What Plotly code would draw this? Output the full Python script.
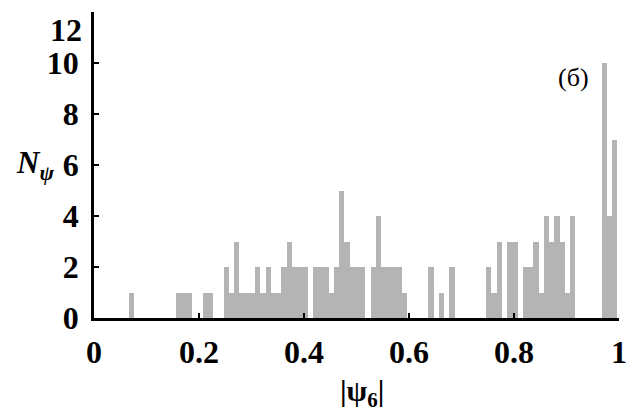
import plotly.graph_objects as go

# Histogram of |psi_6|: counts per bin of width 0.01
bin_start = 0.007
bin_width = 0.01
counts = [
    0, 0, 0, 0, 0, 0, 1, 0, 0, 0,      # 0.007 - 0.107
    0, 0, 0, 0, 0, 1, 1, 1, 0, 0,      # 0.107 - 0.207
    1, 1, 0, 0, 2, 1, 3, 1, 1, 1,      # 0.207 - 0.307
    2, 1, 2, 1, 1, 2, 3, 2, 2, 2,      # 0.307 - 0.407
    0, 2, 2, 2, 1, 2, 5, 3, 2, 2,      # 0.407 - 0.507
    2, 0, 2, 4, 2, 2, 2, 2, 1, 0,      # 0.507 - 0.607
    0, 0, 0, 2, 0, 1, 0, 2, 0, 0,      # 0.607 - 0.707
    0, 0, 0, 0, 2, 1, 3, 0, 3, 3,      # 0.707 - 0.807
    0, 2, 2, 3, 1, 4, 3, 4, 3, 1,      # 0.807 - 0.907
    4, 0, 0, 0, 0, 0, 10, 4, 7,        # 0.907 - 0.997
]
centers = [bin_start + bin_width * (i + 0.5) for i in range(len(counts))]

x_ticks = [0, 0.2, 0.4, 0.6, 0.8, 1]
x_tick_text = ["0", "0.2", "0.4", "0.6", "0.8", "1"]
y_ticks = [0, 2, 4, 6, 8, 10]
y_tick_text = ["0", "2", "4", "6", "8", "10"]
y_top = 12

SERIF = "Liberation Serif"
tick_font = dict(family=SERIF, size=32, weight="bold", color="black")

fig = go.Figure()
fig.add_trace(go.Bar(
    x=centers,
    y=counts,
    width=bin_width,
    marker=dict(color="#b4b4b4", line=dict(width=0)),
    showlegend=False,
))

fig.update_layout(
    width=627,
    height=414,
    margin=dict(l=94, r=8, t=12, b=96, autoexpand=False),
    paper_bgcolor="white",
    plot_bgcolor="white",
    bargap=0,
    font=dict(family=SERIF, color="black"),
    xaxis=dict(
        range=[0, 1],
        tickvals=x_ticks,
        ticktext=x_tick_text,
        ticks="inside",
        ticklen=5,
        tickwidth=2,
        tickcolor="black",
        showline=True,
        linewidth=2.5,
        linecolor="black",
        showgrid=False,
        zeroline=False,
        tickfont=tick_font,
        ticklabelstandoff=4,
        ticklabeloverflow="allow",
        automargin=False,
    ),
    yaxis=dict(
        range=[0, y_top],
        tickvals=y_ticks,
        ticktext=y_tick_text,
        ticks="inside",
        ticklen=5,
        tickwidth=2,
        tickcolor="black",
        showline=True,
        linewidth=2.5,
        linecolor="black",
        showgrid=False,
        zeroline=False,
        tickfont=tick_font,
        ticklabelstandoff=6,
        automargin=False,
        minor=dict(tickvals=[y_top], ticks="inside", ticklen=5,
                   tickwidth=2, tickcolor="black", showgrid=False),
    ),
)

# top y label, set lower than its tick
fig.add_annotation(
    x=0, xref="paper", xanchor="right", xshift=-10,
    y=11.3, yref="y", yanchor="middle",
    text="<b>%d</b>" % y_top, showarrow=False,
    font=dict(family=SERIF, size=32, color="black"),
)

# y axis title N_psi
fig.add_annotation(
    x=0, xref="paper", xanchor="right", xshift=-38,
    y=6, yref="y", yanchor="middle",
    text="<b><i>N</i></b><sub><b><i>ψ</i></b></sub>", showarrow=False,
    font=dict(family=SERIF, size=31, color="black"),
)

# x axis title |psi_6|
fig.add_annotation(
    x=0.51, xref="x", xanchor="center",
    y=0, yref="paper", yanchor="middle", yshift=-75,
    text="<b>|ψ<sub>6</sub>|</b>", showarrow=False,
    font=dict(family=SERIF, size=30, color="black"),
)

# panel label
fig.add_annotation(
    x=0.913, xref="x", xanchor="center",
    y=9.45, yref="y", yanchor="middle",
    text="(б)", showarrow=False,
    font=dict(family=SERIF, size=26, color="black"),
)

fig.write_html("out.html")
